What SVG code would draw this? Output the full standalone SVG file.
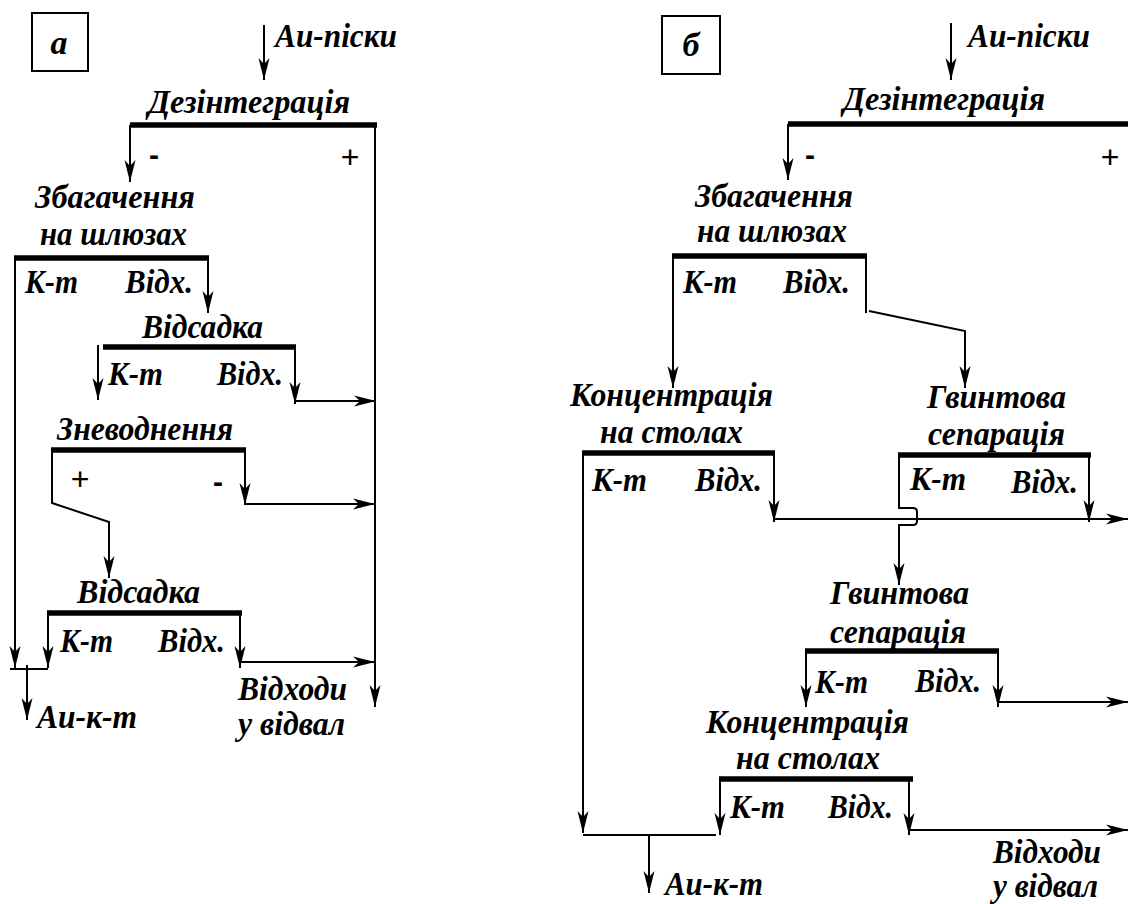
<svg xmlns="http://www.w3.org/2000/svg" width="1128" height="904" viewBox="0 0 1128 904">
<style>
.t{font-family:"Liberation Serif","Times New Roman",serif;font-weight:bold;font-style:italic;font-size:34px;fill:#000}
.s{font-family:"Liberation Sans",Arial,sans-serif;font-size:32px;fill:#000}
.sb{font-family:"Liberation Sans",Arial,sans-serif;font-size:30px;font-weight:bold;fill:#000}
.bar{stroke:#000;stroke-width:5.5;fill:none}
.ln{stroke:#000;stroke-width:2;fill:none}
.ar{stroke:#000;stroke-width:2;fill:none;marker-end:url(#arr)}
.box{stroke:#000;stroke-width:2;fill:#fff}
</style>
<defs>
<marker id="arr" viewBox="-23 -6 24 12" refX="0" refY="0" markerWidth="24" markerHeight="12" markerUnits="userSpaceOnUse" orient="auto">
<path d="M0,0 L-22,-5.5 L-16,0 L-22,5.5 Z" fill="#000"/>
</marker>
</defs>
<rect width="1128" height="904" fill="#fff"/>

<!-- LEFT DIAGRAM (а) -->
<g id="a-label"><rect class="box" x="32" y="13" width="56" height="58"/><text class="t" x="59" y="54" text-anchor="middle">а</text></g>
<g id="a-input"><text class="t" x="275" y="47" textLength="122" lengthAdjust="spacingAndGlyphs">Au-піски</text></g>
<g id="a-dez"><text class="t" x="148" y="113" textLength="202" lengthAdjust="spacingAndGlyphs">Дезінтеграція</text><line class="bar" x1="130" y1="125" x2="377" y2="125"/><text class="sb" x="149" y="165">-</text><text class="s" x="350" y="168" text-anchor="middle">+</text></g>
<g id="a-zbag"><text class="t" x="35" y="208" textLength="160" lengthAdjust="spacingAndGlyphs">Збагачення</text><text class="t" x="40" y="245" textLength="147" lengthAdjust="spacingAndGlyphs">на шлюзах</text><line class="bar" x1="14" y1="258" x2="209" y2="258"/><text class="t" x="25" y="293" textLength="53" lengthAdjust="spacingAndGlyphs">К-т</text><text class="t" x="125" y="293" textLength="68" lengthAdjust="spacingAndGlyphs">Відх.</text></g>
<g id="a-vids1"><text class="t" x="142" y="338" textLength="121" lengthAdjust="spacingAndGlyphs">Відсадка</text><line class="bar" x1="103" y1="347" x2="296" y2="347"/><text class="t" x="108" y="385" textLength="55" lengthAdjust="spacingAndGlyphs">К-т</text><text class="t" x="217" y="385" textLength="66" lengthAdjust="spacingAndGlyphs">Відх.</text></g>
<g id="a-znev"><text class="t" x="57" y="440" textLength="176" lengthAdjust="spacingAndGlyphs">Зневоднення</text><line class="bar" x1="51" y1="450" x2="246" y2="450"/><text class="s" x="80" y="490" text-anchor="middle">+</text><text class="sb" x="213" y="492">-</text></g>
<g id="a-vids2"><text class="t" x="77" y="603" textLength="123" lengthAdjust="spacingAndGlyphs">Відсадка</text><line class="bar" x1="47" y1="613" x2="242" y2="613"/><text class="t" x="60" y="652" textLength="53" lengthAdjust="spacingAndGlyphs">К-т</text><text class="t" x="158" y="652" textLength="67" lengthAdjust="spacingAndGlyphs">Відх.</text></g>
<g id="a-conc"><text class="t" x="37" y="728" textLength="100" lengthAdjust="spacingAndGlyphs">Au-к-т</text></g>
<g id="a-tail"><text class="t" x="238" y="700" textLength="109" lengthAdjust="spacingAndGlyphs">Відходи</text><text class="t" x="238" y="735" textLength="107" lengthAdjust="spacingAndGlyphs">у відвал</text></g>

<!-- RIGHT DIAGRAM (б) -->
<g id="b-label"><rect class="box" x="662" y="16" width="58" height="58"/><text class="t" x="691" y="56" text-anchor="middle">б</text></g>
<g id="b-input"><text class="t" x="968" y="47" textLength="122" lengthAdjust="spacingAndGlyphs">Au-піски</text></g>
<g id="b-dez"><text class="t" x="843" y="110" textLength="202" lengthAdjust="spacingAndGlyphs">Дезінтеграція</text><line class="bar" x1="788" y1="124" x2="1128" y2="124"/><text class="sb" x="805" y="165">-</text><text class="s" x="1110" y="168" text-anchor="middle">+</text></g>
<g id="b-zbag"><text class="t" x="695" y="207" textLength="158" lengthAdjust="spacingAndGlyphs">Збагачення</text><text class="t" x="697" y="242" textLength="150" lengthAdjust="spacingAndGlyphs">на шлюзах</text><line class="bar" x1="672" y1="256" x2="867" y2="256"/><text class="t" x="683" y="293" textLength="54" lengthAdjust="spacingAndGlyphs">К-т</text><text class="t" x="783" y="293" textLength="67" lengthAdjust="spacingAndGlyphs">Відх.</text></g>
<g id="b-conc1"><text class="t" x="570" y="406" textLength="203" lengthAdjust="spacingAndGlyphs">Концентрація</text><text class="t" x="600" y="443" textLength="143" lengthAdjust="spacingAndGlyphs">на столах</text><line class="bar" x1="582" y1="453" x2="775" y2="453"/><text class="t" x="592" y="491" textLength="55" lengthAdjust="spacingAndGlyphs">К-т</text><text class="t" x="695" y="491" textLength="67" lengthAdjust="spacingAndGlyphs">Відх.</text></g>
<g id="b-gvin1"><text class="t" x="927" y="408" textLength="139" lengthAdjust="spacingAndGlyphs">Гвинтова</text><text class="t" x="928" y="445" textLength="137" lengthAdjust="spacingAndGlyphs">сепарація</text><line class="bar" x1="898" y1="455" x2="1091" y2="455"/><text class="t" x="910" y="490" textLength="56" lengthAdjust="spacingAndGlyphs">К-т</text><text class="t" x="1011" y="493" textLength="67" lengthAdjust="spacingAndGlyphs">Відх.</text></g>
<g id="b-gvin2"><text class="t" x="830" y="604" textLength="139" lengthAdjust="spacingAndGlyphs">Гвинтова</text><text class="t" x="830" y="643" textLength="136" lengthAdjust="spacingAndGlyphs">сепарація</text><line class="bar" x1="805" y1="651" x2="999" y2="651"/><text class="t" x="815" y="693" textLength="53" lengthAdjust="spacingAndGlyphs">К-т</text><text class="t" x="915" y="692" textLength="66" lengthAdjust="spacingAndGlyphs">Відх.</text></g>
<g id="b-conc2"><text class="t" x="706" y="733" textLength="203" lengthAdjust="spacingAndGlyphs">Концентрація</text><text class="t" x="736" y="769" textLength="144" lengthAdjust="spacingAndGlyphs">на столах</text><line class="bar" x1="719" y1="779" x2="913" y2="779"/><text class="t" x="730" y="818" textLength="55" lengthAdjust="spacingAndGlyphs">К-т</text><text class="t" x="828" y="818" textLength="65" lengthAdjust="spacingAndGlyphs">Відх.</text></g>
<g id="b-conc"><text class="t" x="665" y="895" textLength="98" lengthAdjust="spacingAndGlyphs">Au-к-т</text></g>
<g id="b-tail"><text class="t" x="993" y="863" textLength="108" lengthAdjust="spacingAndGlyphs">Відходи</text><text class="t" x="993" y="897" textLength="105" lengthAdjust="spacingAndGlyphs">у відвал</text></g>

<g id="connectors">
<!-- left -->
<line class="ar" x1="264" y1="25" x2="264" y2="80"/>
<line class="ar" x1="130" y1="125" x2="130" y2="182"/>
<line class="ar" x1="375" y1="125" x2="375" y2="707"/>
<line class="ar" x1="15" y1="258" x2="15" y2="668"/>
<line class="ar" x1="208" y1="258" x2="208" y2="313"/>
<line class="ar" x1="98" y1="345" x2="98" y2="400"/>
<line class="ar" x1="295" y1="347" x2="295" y2="404"/>
<line class="ar" x1="295" y1="401" x2="376" y2="401"/>
<polyline class="ar" points="52,450 52,503 109,522 109,578"/>
<line class="ar" x1="245" y1="450" x2="245" y2="505"/>
<line class="ar" x1="245" y1="504" x2="375" y2="504"/>
<line class="ar" x1="48" y1="613" x2="48" y2="668"/>
<line class="ar" x1="240" y1="613" x2="240" y2="668"/>
<line class="ar" x1="240" y1="662" x2="375" y2="662"/>
<line class="ln" x1="10" y1="669" x2="48" y2="669"/>
<line class="ar" x1="27" y1="665" x2="27" y2="720"/>
<!-- right -->
<line class="ar" x1="951" y1="23" x2="951" y2="80"/>
<line class="ar" x1="788" y1="124" x2="788" y2="180"/>
<line class="ar" x1="673" y1="256" x2="673" y2="388"/>
<line class="ln" x1="866" y1="256" x2="866" y2="313"/>
<polyline class="ar" points="869,311 965,331 965,388"/>
<line class="ar" x1="583" y1="453" x2="583" y2="833"/>
<line class="ar" x1="774" y1="453" x2="774" y2="522"/>
<line class="ar" x1="774" y1="519" x2="1128" y2="519"/>
<line class="ar" x1="1089" y1="455" x2="1089" y2="522"/>
<path class="ar" d="M899,455 V508 H913 Q917,508 917,512 V521 Q917,525 913,525 H899 V585"/>
<line class="ar" x1="806" y1="651" x2="806" y2="707"/>
<line class="ar" x1="998" y1="651" x2="998" y2="707"/>
<line class="ar" x1="998" y1="702" x2="1128" y2="702"/>
<line class="ar" x1="720" y1="779" x2="720" y2="835"/>
<line class="ar" x1="909" y1="779" x2="909" y2="835"/>
<line class="ar" x1="909" y1="830" x2="1128" y2="830"/>
<line class="ln" x1="583" y1="835" x2="716" y2="835"/>
<line class="ar" x1="649" y1="835" x2="649" y2="893"/>
</g>
</svg>
